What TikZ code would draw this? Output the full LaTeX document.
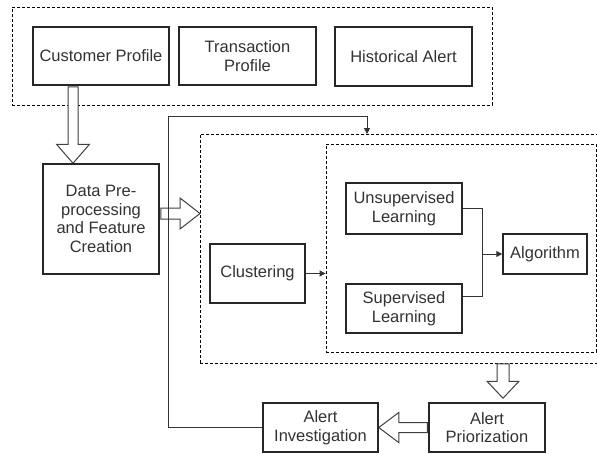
\documentclass[tikz,border=0pt]{standalone}
\usepackage{fontspec}
\setmainfont{Liberation Sans}
\usetikzlibrary{calc,arrows.meta}
\newcommand\hollowarrow[5]{%
  \coordinate (ha-s) at (#1);
  \coordinate (ha-e) at (#2);
  \coordinate (ha-h) at ($(ha-e)!#5!(ha-s)$);
  \draw[hollow] ($(ha-s)!#3!90:(ha-e)$) -- ($(ha-h)!#3!90:(ha-e)$) -- ($(ha-h)!#4!90:(ha-e)$) -- (ha-e)
    -- ($(ha-h)!#4!-90:(ha-e)$) -- ($(ha-h)!#3!-90:(ha-e)$) -- ($(ha-s)!#3!-90:(ha-e)$) -- cycle;
}
\begin{document}
\begin{tikzpicture}[x=1pt,y=-1pt,
  box/.style={draw=black!85, line width=1.5pt, fill=white, text=black!80, align=center,
    inner sep=1pt, font=\fontsize{16.5}{18.6}\selectfont, anchor=center},
  group/.style={draw=black, line width=0.9pt, dash pattern=on 3pt off 2pt, anchor=center, inner sep=0pt},
  hollow/.style={draw=black!75, line width=1pt, fill=white, line join=miter},
  line/.style={draw=black!80, line width=1pt},
  arr/.style={line, -{Triangle[length=6pt,width=6pt]}}]
\clip (0,0) rectangle (597,455);
\fill[white] (0,0) rectangle (597,455);
% groups
\node[group, minimum width=480pt, minimum height=98pt] (top) at (252,56) {};
\node[group, minimum width=420pt, minimum height=229pt] (mid) at (410,248.5) {};
\node[group, minimum width=270pt, minimum height=208pt] (inner) at (461,248) {};
% boxes
\node[box, minimum width=136pt, minimum height=58pt] (cust) at (101,56) {Customer Profile};
\node[box, minimum width=137pt, minimum height=58pt] (trans) at (247.5,56) {Transaction\\Profile};
\node[box, minimum width=137pt, minimum height=59pt] (hist) at (403.5,56.5) {Historical Alert};
\node[box, minimum width=116pt, minimum height=110pt] (data) at (101,219) {Data Pre-\\processing\\and Feature\\Creation};
\node[box, minimum width=95pt, minimum height=59pt] (clus) at (257.5,273.5) {Clustering};
\node[box, minimum width=116pt, minimum height=51pt] (unsup) at (404,208.5) {Unsupervised\\Learning};
\node[box, minimum width=116pt, minimum height=49pt] (sup) at (404,308.5) {Supervised\\Learning};
\node[box, minimum width=84pt, minimum height=40pt] (alg) at (545,254) {Algorithm};
\node[box, minimum width=115pt, minimum height=49pt] (inv) at (320.5,427.5) {Alert\\Investigation};
\node[box, minimum width=116pt, minimum height=49pt] (prio) at (487,427.5) {Alert\\Priorization};
% hollow arrows
\hollowarrow{$(cust.south)+(-28,1)$}{$(data.north)+(-28,0)$}{5pt}{16.5pt}{19pt}
\hollowarrow{$(data.east)+(1,-5.5)$}{200,213.5}{5.5pt}{15.5pt}{20pt}
\hollowarrow{$(mid.south)+(93,0.5)$}{$(prio.north)+(16,-4)$}{6pt}{16pt}{17pt}
\hollowarrow{$(prio.west)+(-1,0)$}{$(inv.east)+(0,0)$}{5pt}{15pt}{20pt}
% feedback loop
\coordinate (fbc) at (168,116);
\coordinate (fbt) at (367,134);
\draw[arr] (inv.west) -| (fbc) -| (fbt);
% inner connectors
\draw[arr] (clus.east) -- (clus.east -| inner.west);
\coordinate (j) at (482,254);
\draw[line] (unsup.east) -| (j);
\draw[line] ($(sup.east)+(0,-12)$) -| (j);
\draw[arr] (j) -- (alg.west);
% redraw boxes on top of hollow arrows
\node[box, minimum width=136pt, minimum height=58pt] at (cust) {Customer Profile};
\node[box, minimum width=116pt, minimum height=110pt] at (data) {Data Pre-\\processing\\and Feature\\Creation};
\node[box, minimum width=115pt, minimum height=49pt] at (inv) {Alert\\Investigation};
\node[box, minimum width=116pt, minimum height=49pt] at (prio) {Alert\\Priorization};
\end{tikzpicture}
\end{document}
